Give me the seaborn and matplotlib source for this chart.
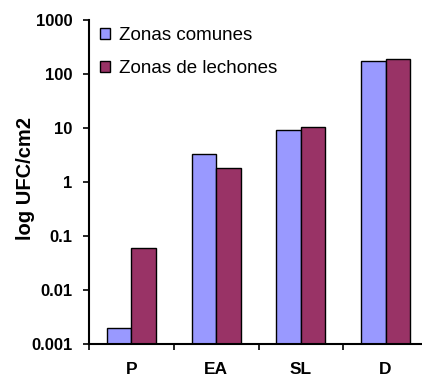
import matplotlib
matplotlib.use("Agg")
import matplotlib.pyplot as plt
import seaborn as sns
from matplotlib.ticker import FixedLocator, NullLocator
from pandas import DataFrame

# datos
categorias = ["P", "EA", "SL", "D"]
zonas = ["Zonas comunes", "Zonas de lechones"]
zonas_comunes = [0.002, 3.3, 9.1, 174]
zonas_lechones = [0.06, 1.8, 10.5, 187]
y_ticks = [0.001, 0.01, 0.1, 1, 10, 100, 1000]
y_tick_labels = ["0.001", "0.01", "0.1", "1", "10", "100", "1000"]
colores = ["#9999FF", "#993366"]

df = DataFrame({
    "cat": categorias * 2,
    "zona": [zonas[0]] * 4 + [zonas[1]] * 4,
    "valor": zonas_comunes + zonas_lechones,
})

sns.set_style("white")
plt.rcParams["font.family"] = ["Liberation Sans", "DejaVu Sans"]
plt.rcParams["text.color"] = "black"
plt.rcParams["axes.labelcolor"] = "black"
plt.rcParams["xtick.color"] = "black"
plt.rcParams["ytick.color"] = "black"

fig = plt.figure(figsize=(4.22, 3.78), dpi=100)
ax = fig.add_axes([89 / 422, 34 / 378, 339 / 422, 324 / 378])

sns.barplot(data=df, x="cat", y="valor", hue="zona", order=categorias,
            hue_order=zonas, palette=colores, width=0.58, gap=0,
            edgecolor="black", linewidth=1.0, saturation=1, ax=ax)

ax.set_yscale("log")
ax.set_ylim(0.001, 1000)
ax.set_xlim(-0.5, 3.5)

# eje y
ax.yaxis.set_major_locator(FixedLocator(y_ticks))
ax.yaxis.set_minor_locator(NullLocator())
ax.set_yticklabels(y_tick_labels, fontsize=12, fontweight="bold")
ax.tick_params(axis="y", which="major", direction="out", length=4.3,
               width=1.2, pad=7.5, left=True, colors="black")

# eje x: etiquetas en el centro, marcas entre categorias
ax.set_xticks(range(len(categorias)))
ax.set_xticklabels(categorias, fontsize=12.5, fontweight="bold")
ax.tick_params(axis="x", which="major", length=0, pad=13, colors="black")
ax.xaxis.set_minor_locator(FixedLocator([-0.5, 0.5, 1.5, 2.5, 3.5]))
ax.tick_params(axis="x", which="minor", direction="out", length=4.3,
               width=1.2, bottom=True, color="black")

ax.set_xlabel("")
ax.set_ylabel("log UFC/cm2", fontsize=14.5, fontweight="bold", color="black")
ax.yaxis.label.set_va("center")
ax.yaxis.set_label_coords(-0.186, 0.512)

for side in ["top", "right"]:
    ax.spines[side].set_visible(False)
for side in ["left", "bottom"]:
    ax.spines[side].set_color("black")
    ax.spines[side].set_linewidth(1.5)

leg = ax.legend(loc="upper left", bbox_to_anchor=(0.032, 0.978), frameon=False,
                fontsize=13.5, handlelength=0.55, handleheight=0.55,
                handletextpad=0.45, labelspacing=0.87, borderpad=0,
                borderaxespad=0)
for t in leg.get_texts():
    t.set_color("black")

fig.savefig("out.png", dpi=100)
plt.close(fig)
